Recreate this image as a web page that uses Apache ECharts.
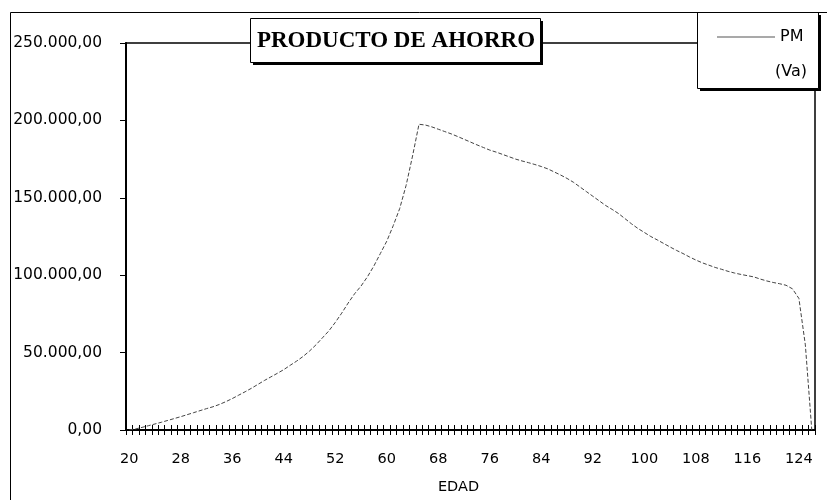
<!DOCTYPE html>
<html>
<head>
<meta charset="utf-8">
<script src="https://cdn.jsdelivr.net/npm/echarts@6/dist/echarts.min.js"></script>
<style>html,body{margin:0;padding:0;background:#fff}#c{width:827px;height:500px}</style>
</head>
<body>
<div id="c"></div>
<script>
// ---- data ----
const ages = [];
for (let a = 20; a <= 126; a++) ages.push(String(a));
const pmValues = [
  0, 700, 1700, 2800, 3900, 5000, 6200, 7400, 8600, 9900,          // 20-29
  11200, 12500, 13800, 15000, 16500, 18300, 20300, 22500, 24700, 27000, // 30-39
  29500, 32000, 34300, 36600, 39000, 41800, 44500, 47500, 51000, 55000, // 40-49
  59500, 64000, 69500, 75500, 82000, 88000, 93000, 99000, 106000, 114000, // 50-59
  122000, 132000, 143000, 158000, 177000, 197500, 197000, 195800, 194300, 192800, // 60-69
  191300, 189600, 187800, 186000, 184200, 182500, 180800, 179500, 178000, 176500, // 70-79
  175000, 173800, 172700, 171500, 170200, 168700, 166700, 164700, 162500, 160000, // 80-89
  157000, 154000, 151000, 148000, 145000, 142500, 139800, 136500, 133200, 130200, // 90-99
  127600, 125000, 122800, 120500, 118200, 116000, 114000, 111800, 109800, 108000, // 100-109
  106500, 105000, 103800, 102500, 101400, 100500, 99700, 98900, 97500, 96300,   // 110-119
  95300, 94500, 93500, 91200, 85000, 55000, 0                                  // 120-126
];
const titleText = 'PRODUCTO DE AHORRO';
const seriesName = 'PM';
const seriesSub = '(Va)';
const xName = 'EDAD';

function fmt(v) {
  const s = Math.round(v).toString().replace(/\B(?=(\d{3})+(?!\d))/g, '.');
  return s + ',00';
}

const chart = echarts.init(document.getElementById('c'), null, {renderer: 'canvas'});
const labelFont = {fontFamily: 'DejaVu Sans', fontSize: 14.5, color: '#000'};
chart.setOption({
  animation: false,
  backgroundColor: '#fff',
  grid: {left: 126, top: 43, right: 12, bottom: 67, show: true, borderColor: '#000', borderWidth: 1.5, backgroundColor: 'transparent'},
  legend: {
    show: true, z: 80,
    left: 712, top: 23,
    itemWidth: 58, itemHeight: 1,
    data: [{name: seriesName, icon: 'path://M0,0L58,0L58,1L0,1Z'}],
    itemStyle: {color: '#555'},
    textStyle: {fontFamily: 'DejaVu Sans', fontSize: 16, color: '#000', lineHeight: 18},
    itemGap: 4
  },
  xAxis: [{
    type: 'category', data: ages, boundaryGap: true,
    name: xName, nameLocation: 'middle', nameGap: 50,
    nameTextStyle: {fontFamily: 'DejaVu Sans', fontSize: 14.5, color: '#000', padding: [0, 24, 0, 0]},
    axisLine: {show: true, lineStyle: {color: '#000', width: 2}},
    axisTick: {show: true, interval: 0, length: 5, lineStyle: {color: '#000', width: 1}},
    axisLabel: Object.assign({interval: 7, margin: 22}, labelFont),
    splitLine: {show: false}
  }, {
    type: 'category', data: ages, boundaryGap: true, position: 'bottom',
    axisLine: {show: false},
    axisTick: {show: true, inside: true, interval: 0, length: 5, lineStyle: {color: '#000', width: 1}},
    axisLabel: {show: false},
    splitLine: {show: false}
  }],
  yAxis: {
    type: 'value', min: 0, max: 250000, interval: 50000,
    axisLine: {show: true, lineStyle: {color: '#000', width: 2}},
    axisTick: {show: true, length: 6, lineStyle: {color: '#000', width: 1}},
    axisLabel: {margin: 24, formatter: fmt, fontFamily: 'DejaVu Sans', fontSize: 15.5, color: '#000'},
    splitLine: {show: false}
  },
  series: [{
    name: seriesName, type: 'line', data: pmValues, xAxisIndex: 0,
    symbol: 'none', showSymbol: false, smooth: false,
    lineStyle: {color: '#444', width: 1, type: [4, 2]},
    itemStyle: {color: '#444'}
  }],
  graphic: [
    {type: 'rect', silent: true, z: 100, shape: {x: 10.5, y: 12.5, width: 900, height: 600}, style: {fill: 'none', stroke: '#000', lineWidth: 1}},
    // title box
    {type: 'rect', z: 101, shape: {x: 253, y: 21, width: 290, height: 44}, style: {fill: '#000'}},
    {type: 'rect', z: 102, shape: {x: 250.5, y: 18.5, width: 290, height: 44}, style: {fill: '#fff', stroke: '#000', lineWidth: 1}},
    {type: 'text', z: 103, x: 396, y: 41, style: {text: titleText, fill: '#000', font: 'bold 23px "Liberation Serif"', textAlign: 'center', textVerticalAlign: 'middle'}},
    // legend box
    {type: 'rect', z: 50, shape: {x: 700, y: 15, width: 121, height: 76}, style: {fill: '#000'}},
    {type: 'rect', z: 51, shape: {x: 697.5, y: 12.5, width: 121, height: 76}, style: {fill: '#fff', stroke: '#000', lineWidth: 1}},
    {type: 'text', z: 52, x: 775, y: 72, style: {text: seriesSub, fill: '#000', font: '16px "DejaVu Sans"', textAlign: 'left', textVerticalAlign: 'middle'}}
  ]
});
</script>
</body>
</html>
